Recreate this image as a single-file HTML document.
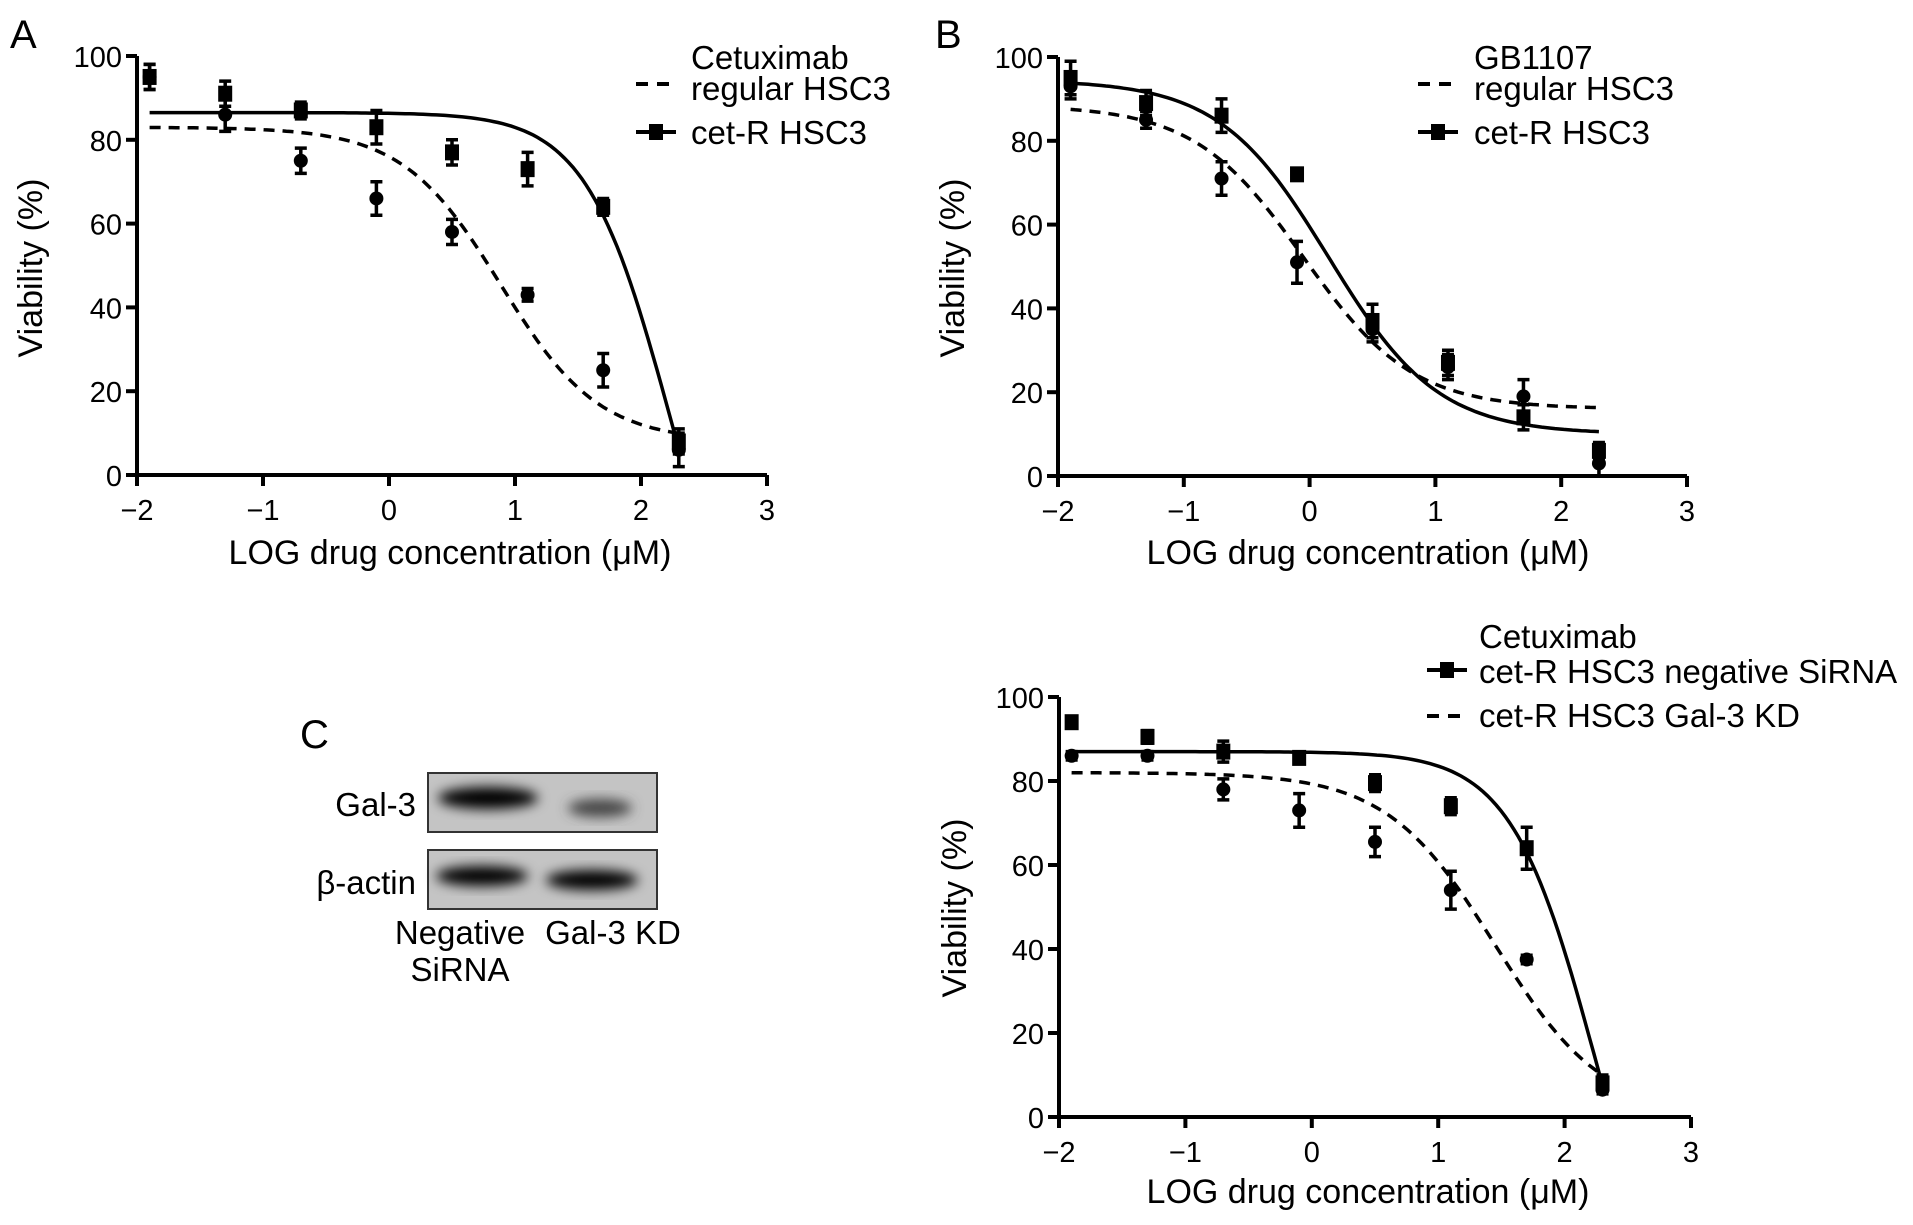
<!DOCTYPE html>
<html><head><meta charset="utf-8"><style>
html,body{margin:0;padding:0;background:#fff;}
svg{display:block;font-family:"Liberation Sans",Arial,sans-serif;}
</style></head><body>
<svg id="fig" width="1913" height="1225" viewBox="0 0 1913 1225" xmlns="http://www.w3.org/2000/svg">
<defs><filter id="blur" x="-50%" y="-50%" width="200%" height="200%"><feGaussianBlur stdDeviation="6"/></filter></defs>
<text x="10" y="48" font-size="40">A</text>
<text x="935" y="48" font-size="40">B</text>
<text x="300" y="748" font-size="40">C</text>
<g>
 <rect x="428" y="773" width="229" height="59" fill="#c4c4c4" stroke="#333" stroke-width="2"/>
 <ellipse cx="488" cy="798" rx="50" ry="11" fill="#000" filter="url(#blur)"/>
 <ellipse cx="600" cy="808" rx="32" ry="9" fill="#444" filter="url(#blur)"/>
 <rect x="428" y="850" width="229" height="59" fill="#c4c4c4" stroke="#333" stroke-width="2"/>
 <ellipse cx="482" cy="876" rx="46" ry="10" fill="#000" filter="url(#blur)"/>
 <ellipse cx="592" cy="880" rx="46" ry="10" fill="#000" filter="url(#blur)"/>
 <text x="416" y="816" font-size="33" text-anchor="end">Gal-3</text>
 <text x="416" y="894" font-size="33" text-anchor="end">β-actin</text>
 <text x="460" y="944" font-size="33" text-anchor="middle">Negative</text>
 <text x="460" y="981" font-size="33" text-anchor="middle">SiRNA</text>
 <text x="613" y="944" font-size="33" text-anchor="middle">Gal-3 KD</text>
</g>
</svg>
<script>
const xPoints=[-1.9,-1.3,-0.7,-0.1,0.5,1.1,1.7,2.3];
const xTicks=[-2,-1,0,1,2,3];
const xTickLabels=["\u22122","\u22121","0","1","2","3"];
const yTicks=[0,20,40,60,80,100];
const aSolidVals=[95,91,87,83,77,73,64,8];
const aSolidErr=[3,3,2,4,3,4,2,3];
const aDashVals=[95,86,75,66,58,43,25,6];
const aDashErr=[3,4,3,4,3,1.5,4,4];
const aSolidFit=[86.5,-60,2.236,1.3];
const aDashFit=[83,8,0.885,1.115];
const bSolidVals=[95,89,86,72,37,27,14,6];
const bSolidErr=[4,3,4,1,4,3,3,2];
const bDashVals=[93,85,71,51,35,26,19,3];
const bDashErr=[3,2,4,5,3,3,4,3];
const bSolidFit=[94.5,10,0.15,1.0];
const bDashFit=[88.5,16,-0.05,1.0];
const cSolidVals=[94,90.5,87,85.5,79.5,74,64,8];
const cSolidErr=[1,1.5,2.5,1,2,2,5,2];
const cDashVals=[86,86,78,73,65.5,54,37.5,6.5];
const cDashErr=[1,1,2.5,4,3.5,4.5,1,1];
const cSolidFit=[87,-60,2.246,1.3];
const cDashFit=[82,0,1.45,1.01];

const NS="http://www.w3.org/2000/svg";
const svg=document.getElementById('fig');
function mk(tag,attrs,parent){const e=document.createElementNS(NS,tag);for(const k in attrs)e.setAttribute(k,attrs[k]);(parent||svg).appendChild(e);return e;}
function fit(p,x){return p[1]+(p[0]-p[1])/(1+Math.pow(10,(x-p[2])*p[3]));}

function panel(id,box,solidVals,solidErr,dashVals,dashErr,solidFit,dashFit){
  const g=mk('g',{});
  
  
  const X=v=>box.x0+(v+2)/5*(box.x1-box.x0);
  const Y=v=>box.y0-(v/100)*(box.y0-box.y100);
  const ax=mk('path',{d:`M${X(-2)} ${Y(100)} V${box.y0} H${X(3)}`,fill:'none',stroke:'#000','stroke-width':4},g);
  
  
  xTicks.forEach((t,i)=>{
    mk('line',{x1:X(t),x2:X(t),y1:box.y0,y2:box.y0+11,stroke:'#000','stroke-width':4},g);
    const tx=mk('text',{x:X(t),y:box.y0+45,'font-size':29,'text-anchor':'middle'},g);
    tx.textContent=xTickLabels[i];
    
    
  });
  yTicks.forEach(t=>{
    mk('line',{x1:X(-2)-11,x2:X(-2),y1:Y(t),y2:Y(t),stroke:'#000','stroke-width':4},g);
    const tx=mk('text',{x:X(-2)-15,y:Y(t)+11,'font-size':29,'text-anchor':'end'},g);
    tx.textContent=t;
    
    
  });
  const xt=mk('text',{x:box.xtx,y:box.xty,'font-size':34,'text-anchor':'middle'},g);
  xt.textContent='LOG drug concentration (\u03bcM)';
  
  
  const yt=mk('text',{x:0,y:0,'font-size':34,'text-anchor':'middle',transform:`translate(${box.ytx},${box.yty}) rotate(-90)`},g);
  yt.textContent='Viability (%)';
  
  
  function curve(p,dash,name){
    let d='';for(let i=0;i<=120;i++){const x=-1.9+4.2*i/120;d+=(i?'L':'M')+X(x).toFixed(1)+' '+Y(fit(p,x)).toFixed(1);}
    const c=mk('path',{d,fill:'none',stroke:'#000','stroke-width':3.5},g);
    if(dash)c.setAttribute('stroke-dasharray','11 8');
    
    
  }
  curve(solidFit,false,'solid-fit-curve');
  curve(dashFit,true,'dashed-fit-curve');
  function pts(vals,errs,sq,name){
    vals.forEach((v,i)=>{
      const cx=X(xPoints[i]),cy=Y(v),e=errs[i]*(box.y0-box.y100)/100;
      const eb=mk('path',{d:`M${cx} ${cy-e}V${cy+e}M${cx-6} ${cy-e}H${cx+6}M${cx-6} ${cy+e}H${cx+6}`,stroke:'#000','stroke-width':3.5,fill:'none'},g);
      
      
      const m=sq?mk('rect',{x:cx-7,y:cy-8,width:14,height:16,fill:'#000'},g):mk('circle',{cx,cy,r:7,fill:'#000'},g);
      
      
    });
  }
  pts(dashVals,dashErr,false,'point-dashed-series');
  pts(solidVals,solidErr,true,'point-solid-series');
  return g;
}
function legendLine(x,y,dash,marker,name){
  const l=mk('line',{x1:x,x2:x+40,y1:y,y2:y,stroke:'#000','stroke-width':4});
  if(dash)l.setAttribute('stroke-dasharray','12 9');
  
  
  if(marker){const r=mk('rect',{x:x+13,y:y-8,width:14,height:16,fill:'#000'});
    
    }
}
function legendText(x,y,t,name){const e=mk('text',{x,y,'font-size':33});e.textContent=t;
  
  }

panel('chart-a',{x0:137,x1:767,y0:475,y100:56,xtx:450,xty:564,ytx:42,yty:268},aSolidVals,aSolidErr,aDashVals,aDashErr,aSolidFit,aDashFit);
panel('chart-b',{x0:1058,x1:1687,y0:476,y100:57,xtx:1368,xty:564,ytx:964,yty:268},bSolidVals,bSolidErr,bDashVals,bDashErr,bSolidFit,bDashFit);
panel('chart-c',{x0:1059,x1:1691,y0:1117,y100:697,xtx:1368,xty:1203,ytx:966,yty:908},cSolidVals,cSolidErr,cDashVals,cDashErr,cSolidFit,cDashFit);

legendText(691,69,'Cetuximab','legend-a-title');
legendText(691,100,'regular HSC3','legend-a-regular');
legendLine(636,84,true,false,'legend-a-dashed');
legendText(691,144,'cet-R HSC3','legend-a-cetr');
legendLine(636,132,false,true,'legend-a-solid');

legendText(1474,69,'GB1107','legend-b-title');
legendText(1474,100,'regular HSC3','legend-b-regular');
legendLine(1418,84,true,false,'legend-b-dashed');
legendText(1474,144,'cet-R HSC3','legend-b-cetr');
legendLine(1418,132,false,true,'legend-b-solid');

legendText(1479,648,'Cetuximab','legend-c-title');
legendText(1479,683,'cet-R HSC3 negative SiRNA','legend-c-negative');
legendLine(1427,670,false,true,'legend-c-solid');
legendText(1479,727,'cet-R HSC3 Gal-3 KD','legend-c-kd');
legendLine(1427,716,true,false,'legend-c-dashed');
</script>
</body></html>
